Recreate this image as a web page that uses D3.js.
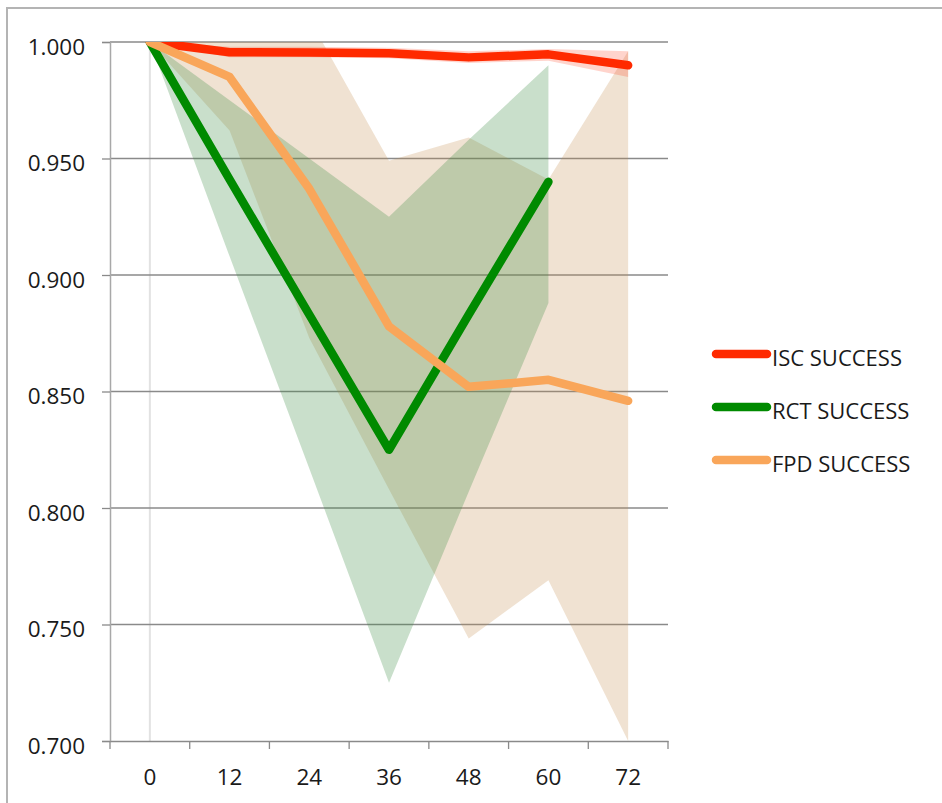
<!DOCTYPE html>
<html>
<head>
<meta charset="utf-8">
<script src="https://cdn.jsdelivr.net/npm/d3@7"></script>
<style>
  html, body { margin: 0; padding: 0; background: #fff; }
  svg { display: block; }
  text { font-family: "Open Sans", "Liberation Sans", sans-serif; fill: #1a1a1a; }
</style>
</head>
<body>
<svg id="chart" width="942" height="803"></svg>
<script>
// Follow-up month for each column
const months = [0, 12, 24, 36, 48, 60, 72];
const yTicks = [0.700, 0.750, 0.800, 0.850, 0.900, 0.950, 1.000];

// ISC success with its confidence band
const iscValues = [1.000, 0.9956, 0.9955, 0.9952, 0.9934, 0.9947, 0.9900];
const iscLower  = [1.000, 0.9935, 0.9935, 0.9930, 0.9910, 0.9920, 0.9850];
const iscUpper  = [1.000, 0.9980, 0.9980, 0.9975, 0.9960, 0.9970, 0.9960];

// RCT success (no 72-month value)
const rctValues = [1.000, 0.941, 0.883, 0.825, 0.883, 0.940, null];
const rctLower  = [1.000, 0.908, 0.817, 0.725, 0.807, 0.888, null];
const rctUpper  = [1.000, 0.975, 0.950, 0.925, 0.958, 0.990, null];

// FPD success
const fpdValues = [1.000, 0.985, 0.937, 0.878, 0.852, 0.855, 0.846];
const fpdLower  = [1.000, 0.962, 0.873, 0.808, 0.744, 0.769, 0.700];
const fpdUpper  = [1.000, 1.005, 1.010, 0.949, 0.959, 0.941, 0.996];

const seriesNames = ["ISC SUCCESS", "RCT SUCCESS", "FPD SUCCESS"];
const lineColors = ["#ff2a00", "#008a00", "#f9a65a"];
const bandColors = ["#ff2a00", "#3c8c46", "#c38c4b"];
const bandOpacity = [0.2, 0.28, 0.25];

const svg = d3.select("#chart");

const plot = { left: 110, right: 668, top: 42, bottom: 741 };

const x = d3.scaleBand().domain(months).range([plot.left, plot.right]);
const cx = m => x(m) + x.bandwidth() / 2;
const y = d3.scaleLinear().domain([0.7, 1.0]).range([plot.bottom, plot.top]);

// outer frame
svg.append("rect")
  .attr("x", 7).attr("y", 8)
  .attr("width", 960).attr("height", 820)
  .attr("fill", "none")
  .attr("stroke", "#b4b4b4")
  .attr("stroke-width", 2);

svg.append("defs").append("clipPath").attr("id", "plotClip")
  .append("rect")
  .attr("x", plot.left).attr("y", plot.top)
  .attr("width", plot.right - plot.left).attr("height", plot.bottom - plot.top);

// faint vertical guide at month 0
svg.append("line")
  .attr("x1", cx(0)).attr("x2", cx(0))
  .attr("y1", plot.top).attr("y2", plot.bottom)
  .attr("stroke", "#e2e2e2").attr("stroke-width", 2);

// horizontal gridlines
svg.append("g").selectAll("line")
  .data(yTicks.filter(t => t > 0.7))
  .join("line")
  .attr("x1", plot.left).attr("x2", plot.right)
  .attr("y1", d => y(d)).attr("y2", d => y(d))
  .attr("stroke", "#8a8a8a").attr("stroke-width", 1.3);

// confidence bands
const bands = [
  { lo: fpdLower, hi: fpdUpper, i: 2 },
  { lo: rctLower, hi: rctUpper, i: 1 },
  { lo: iscLower, hi: iscUpper, i: 0 }
];
const area = d3.area()
  .defined(d => d.lo != null)
  .x(d => cx(d.m))
  .y0(d => y(d.lo))
  .y1(d => y(d.hi));

const bandG = svg.append("g").attr("clip-path", "url(#plotClip)");
bands.forEach(b => {
  const pts = months.map((m, k) => ({ m, lo: b.lo[k], hi: b.hi[k] }));
  bandG.append("path")
    .attr("d", area(pts))
    .attr("fill", bandColors[b.i])
    .attr("fill-opacity", bandOpacity[b.i]);
});

// y axis
const yAxis = svg.append("g")
  .attr("transform", `translate(${plot.left},0)`)
  .call(d3.axisLeft(y).tickValues(yTicks).tickFormat(d3.format(".3f")).tickSize(8).tickPadding(17));
yAxis.select(".domain").attr("stroke", "#a8a8a8").attr("stroke-width", 1.5);
yAxis.selectAll(".tick line").attr("stroke", "#8a8a8a").attr("stroke-width", 1.3);
yAxis.selectAll(".tick text")
  .attr("dy", "0.55em")
  .style("font-size", "22.5px")
  .style("font-family", "'Open Sans', sans-serif")
  .attr("fill", "#1a1a1a");

// x axis: labels at band centres, ticks at band boundaries
const xAxis = svg.append("g")
  .attr("transform", `translate(0,${plot.bottom})`)
  .call(d3.axisBottom(x).tickSize(0).tickPadding(28));
xAxis.select(".domain").attr("stroke", "#8a8a8a").attr("stroke-width", 1.3);
xAxis.selectAll(".tick text")
  .style("font-size", "22.5px")
  .style("font-family", "'Open Sans', sans-serif")
  .attr("fill", "#1a1a1a");
const bounds = months.map(m => x(m)).concat([x(months[months.length - 1]) + x.bandwidth()]);
xAxis.append("g").selectAll("line")
  .data(bounds)
  .join("line")
  .attr("x1", d => d).attr("x2", d => d)
  .attr("y1", 0).attr("y2", 8)
  .attr("stroke", "#8a8a8a").attr("stroke-width", 1.3);

// series lines
const line = d3.line()
  .defined(d => d.v != null)
  .x(d => cx(d.m))
  .y(d => y(d.v));

const lineG = svg.append("g").attr("clip-path", "url(#plotClip)");
[iscValues, rctValues, fpdValues].forEach((vals, i) => {
  const pts = months.map((m, k) => ({ m, v: vals[k] }));
  lineG.append("path")
    .attr("d", line(pts))
    .attr("fill", "none")
    .attr("stroke", lineColors[i])
    .attr("stroke-width", 8.5)
    .attr("stroke-linejoin", "round")
    .attr("stroke-linecap", "round");
});

// legend
const legend = svg.append("g");
seriesNames.forEach((name, i) => {
  const ly = 354 + i * 53;
  legend.append("line")
    .attr("x1", 716).attr("x2", 767)
    .attr("y1", ly).attr("y2", ly)
    .attr("stroke", lineColors[i])
    .attr("stroke-width", 8.5)
    .attr("stroke-linecap", "round");
  legend.append("text")
    .attr("x", 772).attr("y", ly + 12)
    .style("font-size", "22px")
    .text(name);
});
</script>
</body>
</html>
